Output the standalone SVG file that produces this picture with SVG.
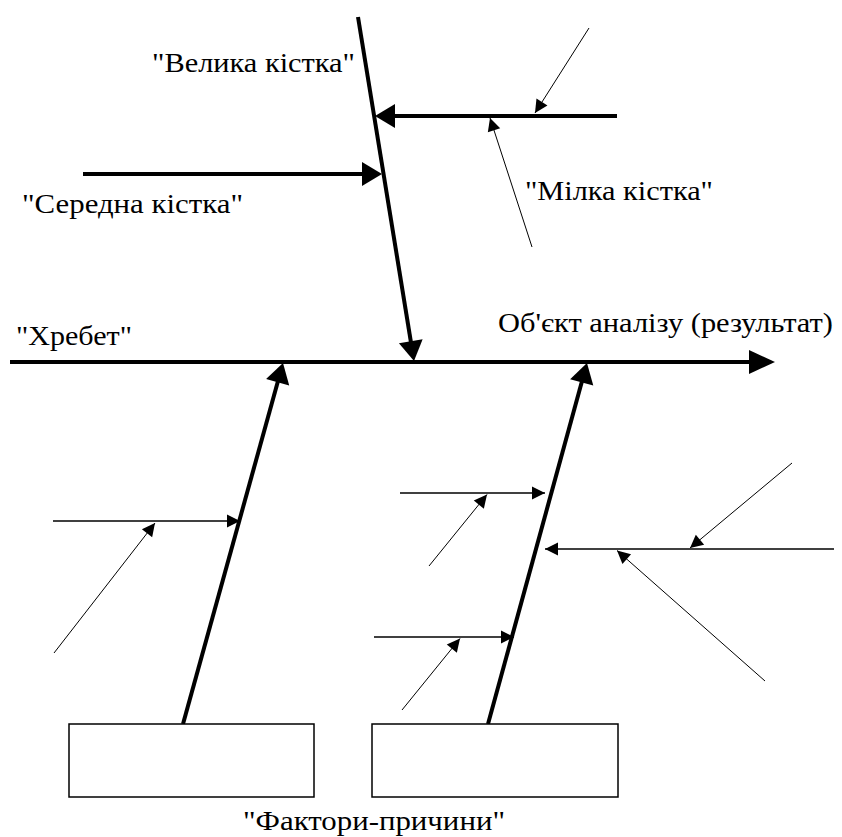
<svg xmlns="http://www.w3.org/2000/svg" width="842" height="837" viewBox="0 0 842 837">
  <style>
    .lbl { font-family: "Liberation Serif", "Times New Roman", Times, Tinos, "Noto Serif", "DejaVu Serif", FreeSerif, serif; font-size: 27px; fill: #000; }
    .thick { stroke: #000; stroke-width: 4; fill: none; }
    .med { stroke: #000; stroke-width: 1.5; fill: none; }
    .thin { stroke: #000; stroke-width: 1; fill: none; }
    .box { fill: #fff; stroke: #000; stroke-width: 1.5; }
  </style>
  <defs>
    <!-- head for the main spine -->
    <marker id="head-spine" markerUnits="userSpaceOnUse" markerWidth="26" markerHeight="24" refX="20" refY="12" orient="auto" overflow="visible">
      <path d="M0,0 L26,12 L0,24 z" fill="#000"/>
    </marker>
    <!-- head for thick bones -->
    <marker id="head-bone" markerUnits="userSpaceOnUse" markerWidth="20" markerHeight="24" refX="14" refY="12" orient="auto" overflow="visible">
      <path d="M0,0 L20,12 L0,24 z" fill="#000"/>
    </marker>
    <!-- head for thin arrows -->
    <marker id="head-small" markerUnits="userSpaceOnUse" markerWidth="13" markerHeight="13" refX="13" refY="6.5" orient="auto" overflow="visible">
      <path d="M0,0 L13,6.5 L0,13 z" fill="#000"/>
    </marker>
  </defs>

  <rect width="842" height="837" fill="#fff"/>

  <g id="connectors">
    <!-- spine -->
    <line class="thick" x1="10" y1="362" x2="769" y2="362" marker-end="url(#head-spine)"/>
    <!-- large bone from the top -->
    <line class="thick" x1="358" y1="17" x2="413.04" y2="355.08" marker-end="url(#head-bone)"/>
    <!-- medium bones on the large bone -->
    <line class="thick" x1="617" y1="116" x2="381" y2="116" marker-end="url(#head-bone)"/>
    <line class="thick" x1="83" y1="174" x2="376" y2="174" marker-end="url(#head-bone)"/>
    <!-- small bones on the upper medium bone -->
    <line class="thin" x1="589" y1="28" x2="535" y2="113" marker-end="url(#head-small)"/>
    <line class="thin" x1="532" y1="247" x2="490" y2="118" marker-end="url(#head-small)"/>

    <!-- lower large bones -->
    <line class="thick" x1="183" y1="724" x2="281.4" y2="368.8" marker-end="url(#head-bone)"/>
    <line class="thick" x1="488" y1="724" x2="585.4" y2="368.8" marker-end="url(#head-bone)"/>

    <!-- left lower bone branches -->
    <line class="med" x1="53" y1="521" x2="240" y2="521" marker-end="url(#head-small)"/>
    <line class="thin" x1="54" y1="653" x2="155" y2="523" marker-end="url(#head-small)"/>

    <!-- right lower bone branches -->
    <line class="med" x1="400" y1="493" x2="545" y2="493" marker-end="url(#head-small)"/>
    <line class="thin" x1="429" y1="566" x2="487" y2="494.5" marker-end="url(#head-small)"/>
    <line class="med" x1="374" y1="637" x2="514" y2="637" marker-end="url(#head-small)"/>
    <line class="thin" x1="402" y1="710" x2="460" y2="638.5" marker-end="url(#head-small)"/>
    <line class="med" x1="834" y1="549" x2="545" y2="549" marker-end="url(#head-small)"/>
    <line class="thin" x1="792" y1="463" x2="690" y2="548" marker-end="url(#head-small)"/>
    <line class="thin" x1="765" y1="681" x2="617" y2="550.5" marker-end="url(#head-small)"/>
  </g>

  <g id="label-big-bone">
    <text class="lbl" x="152" y="72" textLength="203" lengthAdjust="spacingAndGlyphs">"Велика кістка"</text>
  </g>
  <g id="label-middle-bone">
    <text class="lbl" x="22" y="213" textLength="221" lengthAdjust="spacingAndGlyphs">"Середна кістка"</text>
  </g>
  <g id="label-small-bone">
    <text class="lbl" x="525" y="200" textLength="188" lengthAdjust="spacingAndGlyphs">"Мілка кістка"</text>
  </g>
  <g id="label-spine">
    <text class="lbl" x="16" y="345" textLength="116" lengthAdjust="spacingAndGlyphs">"Хребет"</text>
  </g>
  <g id="label-result">
    <text class="lbl" x="498" y="332" textLength="335" lengthAdjust="spacingAndGlyphs">Об'єкт аналізу (результат)</text>
  </g>

  <g id="factor-box-1">
    <rect class="box" x="69" y="724" width="245" height="73"/>
  </g>
  <g id="factor-box-2">
    <rect class="box" x="372" y="724" width="246" height="73"/>
  </g>
  <g id="label-factors">
    <text class="lbl" x="243" y="830" textLength="262" lengthAdjust="spacingAndGlyphs">"Фактори-причини"</text>
  </g>
</svg>
